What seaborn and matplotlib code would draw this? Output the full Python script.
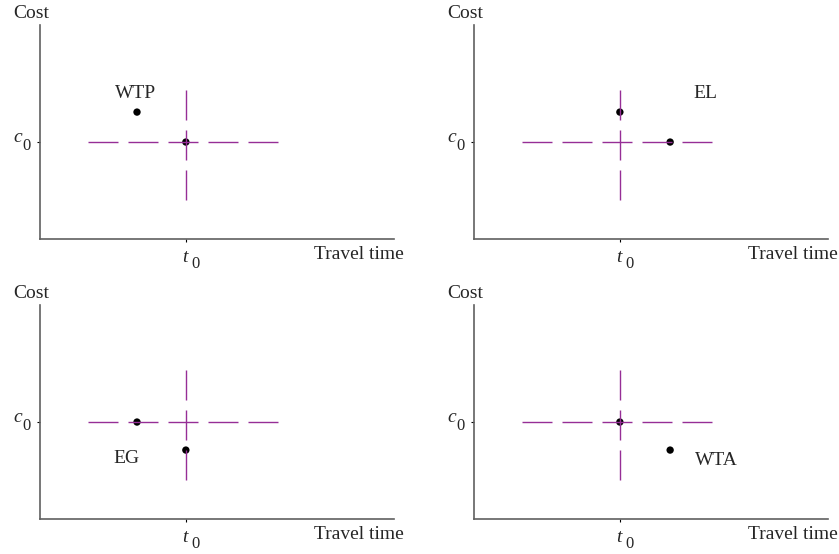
import numpy as np
import pandas as pd
import matplotlib
matplotlib.use("Agg")
import matplotlib.pyplot as plt
import seaborn as sns

# reference point (t0, c0) and the dashed cross around it
t0 = 4.12
c0 = 4.53
h_span = [1.36, 6.75]
v_span = [1.82, 6.96]

# the four panels: label, points and label position
panel_names = ["WTP", "EL", "EG", "WTA"]
pts_x = [[2.74, 4.12], [4.12, 5.54], [2.74, 4.12], [4.12, 5.54]]
pts_y = [[5.93, 4.53], [5.93, 4.53], [4.53, 3.22], [4.53, 3.22]]
label_x = [2.69, 6.55, 2.45, 6.86]
label_y = [6.82, 6.82, 2.82, 2.72]

sns.set_style("white")
plt.rcParams["font.family"] = ["Liberation Serif", "DejaVu Serif"]

purple = "#962e96"
fig = plt.figure(figsize=(8.39, 5.54), dpi=100)
boxes = [[0.0477, 0.5686, 0.4219, 0.3863], [0.565, 0.5686, 0.4219, 0.3863],
         [0.0477, 0.0632, 0.4219, 0.3863], [0.565, 0.0632, 0.4219, 0.3863]]

for i, name in enumerate(panel_names):
    ax = fig.add_axes(boxes[i])
    # points first, dashed cross drawn over them
    df = pd.DataFrame({"x": pts_x[i], "y": pts_y[i]})
    sns.scatterplot(data=df, x="x", y="y", color="black", s=28,
                    edgecolor="none", ax=ax, zorder=2)
    sns.lineplot(x=h_span, y=[c0, c0], color=purple, lw=1.0,
                 linestyle=(0, (21.6, 7.2)), estimator=None, sort=False, ax=ax, zorder=3)
    sns.lineplot(x=[t0, t0], y=v_span, color=purple, lw=1.0,
                 linestyle=(0, (21.6, 7.2)), estimator=None, sort=False, ax=ax, zorder=3)
    ax.text(label_x[i], label_y[i], name, fontsize=14, ha="center", va="center")

    ax.set_xlim(0, 10)
    ax.set_ylim(0, 10)
    ax.set_xticks([t0])
    ax.set_xticklabels([""])
    ax.set_yticks([c0])
    ax.set_yticklabels([""])
    ax.tick_params(direction="out", length=2.5, width=0.8, color="black",
                   bottom=True, left=True)
    ax.set_xlabel("")
    ax.set_ylabel("")
    for side in ["top", "right"]:
        ax.spines[side].set_visible(False)
    for side in ["left", "bottom"]:
        ax.spines[side].set_color("#606060")
        ax.spines[side].set_linewidth(1.2)

    # tick labels t0 and c0 with a large, low subscript
    xt = ax.get_xaxis_transform()
    yt = ax.get_yaxis_transform()
    ax.annotate("t", xy=(t0, 0), xycoords=xt, xytext=(-0.5, -13.3), textcoords="offset points",
                fontsize=14, style="italic", ha="center", va="center")
    ax.annotate("0", xy=(t0, 0), xycoords=xt, xytext=(7.0, -18), textcoords="offset points",
                fontsize=12, ha="center", va="center")
    ax.annotate("c", xy=(0, c0), xycoords=yt, xytext=(-16.2, 3.2), textcoords="offset points",
                fontsize=14, style="italic", ha="center", va="center")
    ax.annotate("0", xy=(0, c0), xycoords=yt, xytext=(-10, -2.5), textcoords="offset points",
                fontsize=12, ha="center", va="center")

    ax.annotate("Cost", xy=(0, 1), xycoords="axes fraction", xytext=(-6.5, 8.5),
                textcoords="offset points", fontsize=14, ha="center", va="center")
    ax.annotate("Travel time", xy=(1, 0), xycoords="axes fraction", xytext=(7, -11.5),
                textcoords="offset points", fontsize=14, ha="right", va="center")

fig.savefig("out.png", dpi=100)
